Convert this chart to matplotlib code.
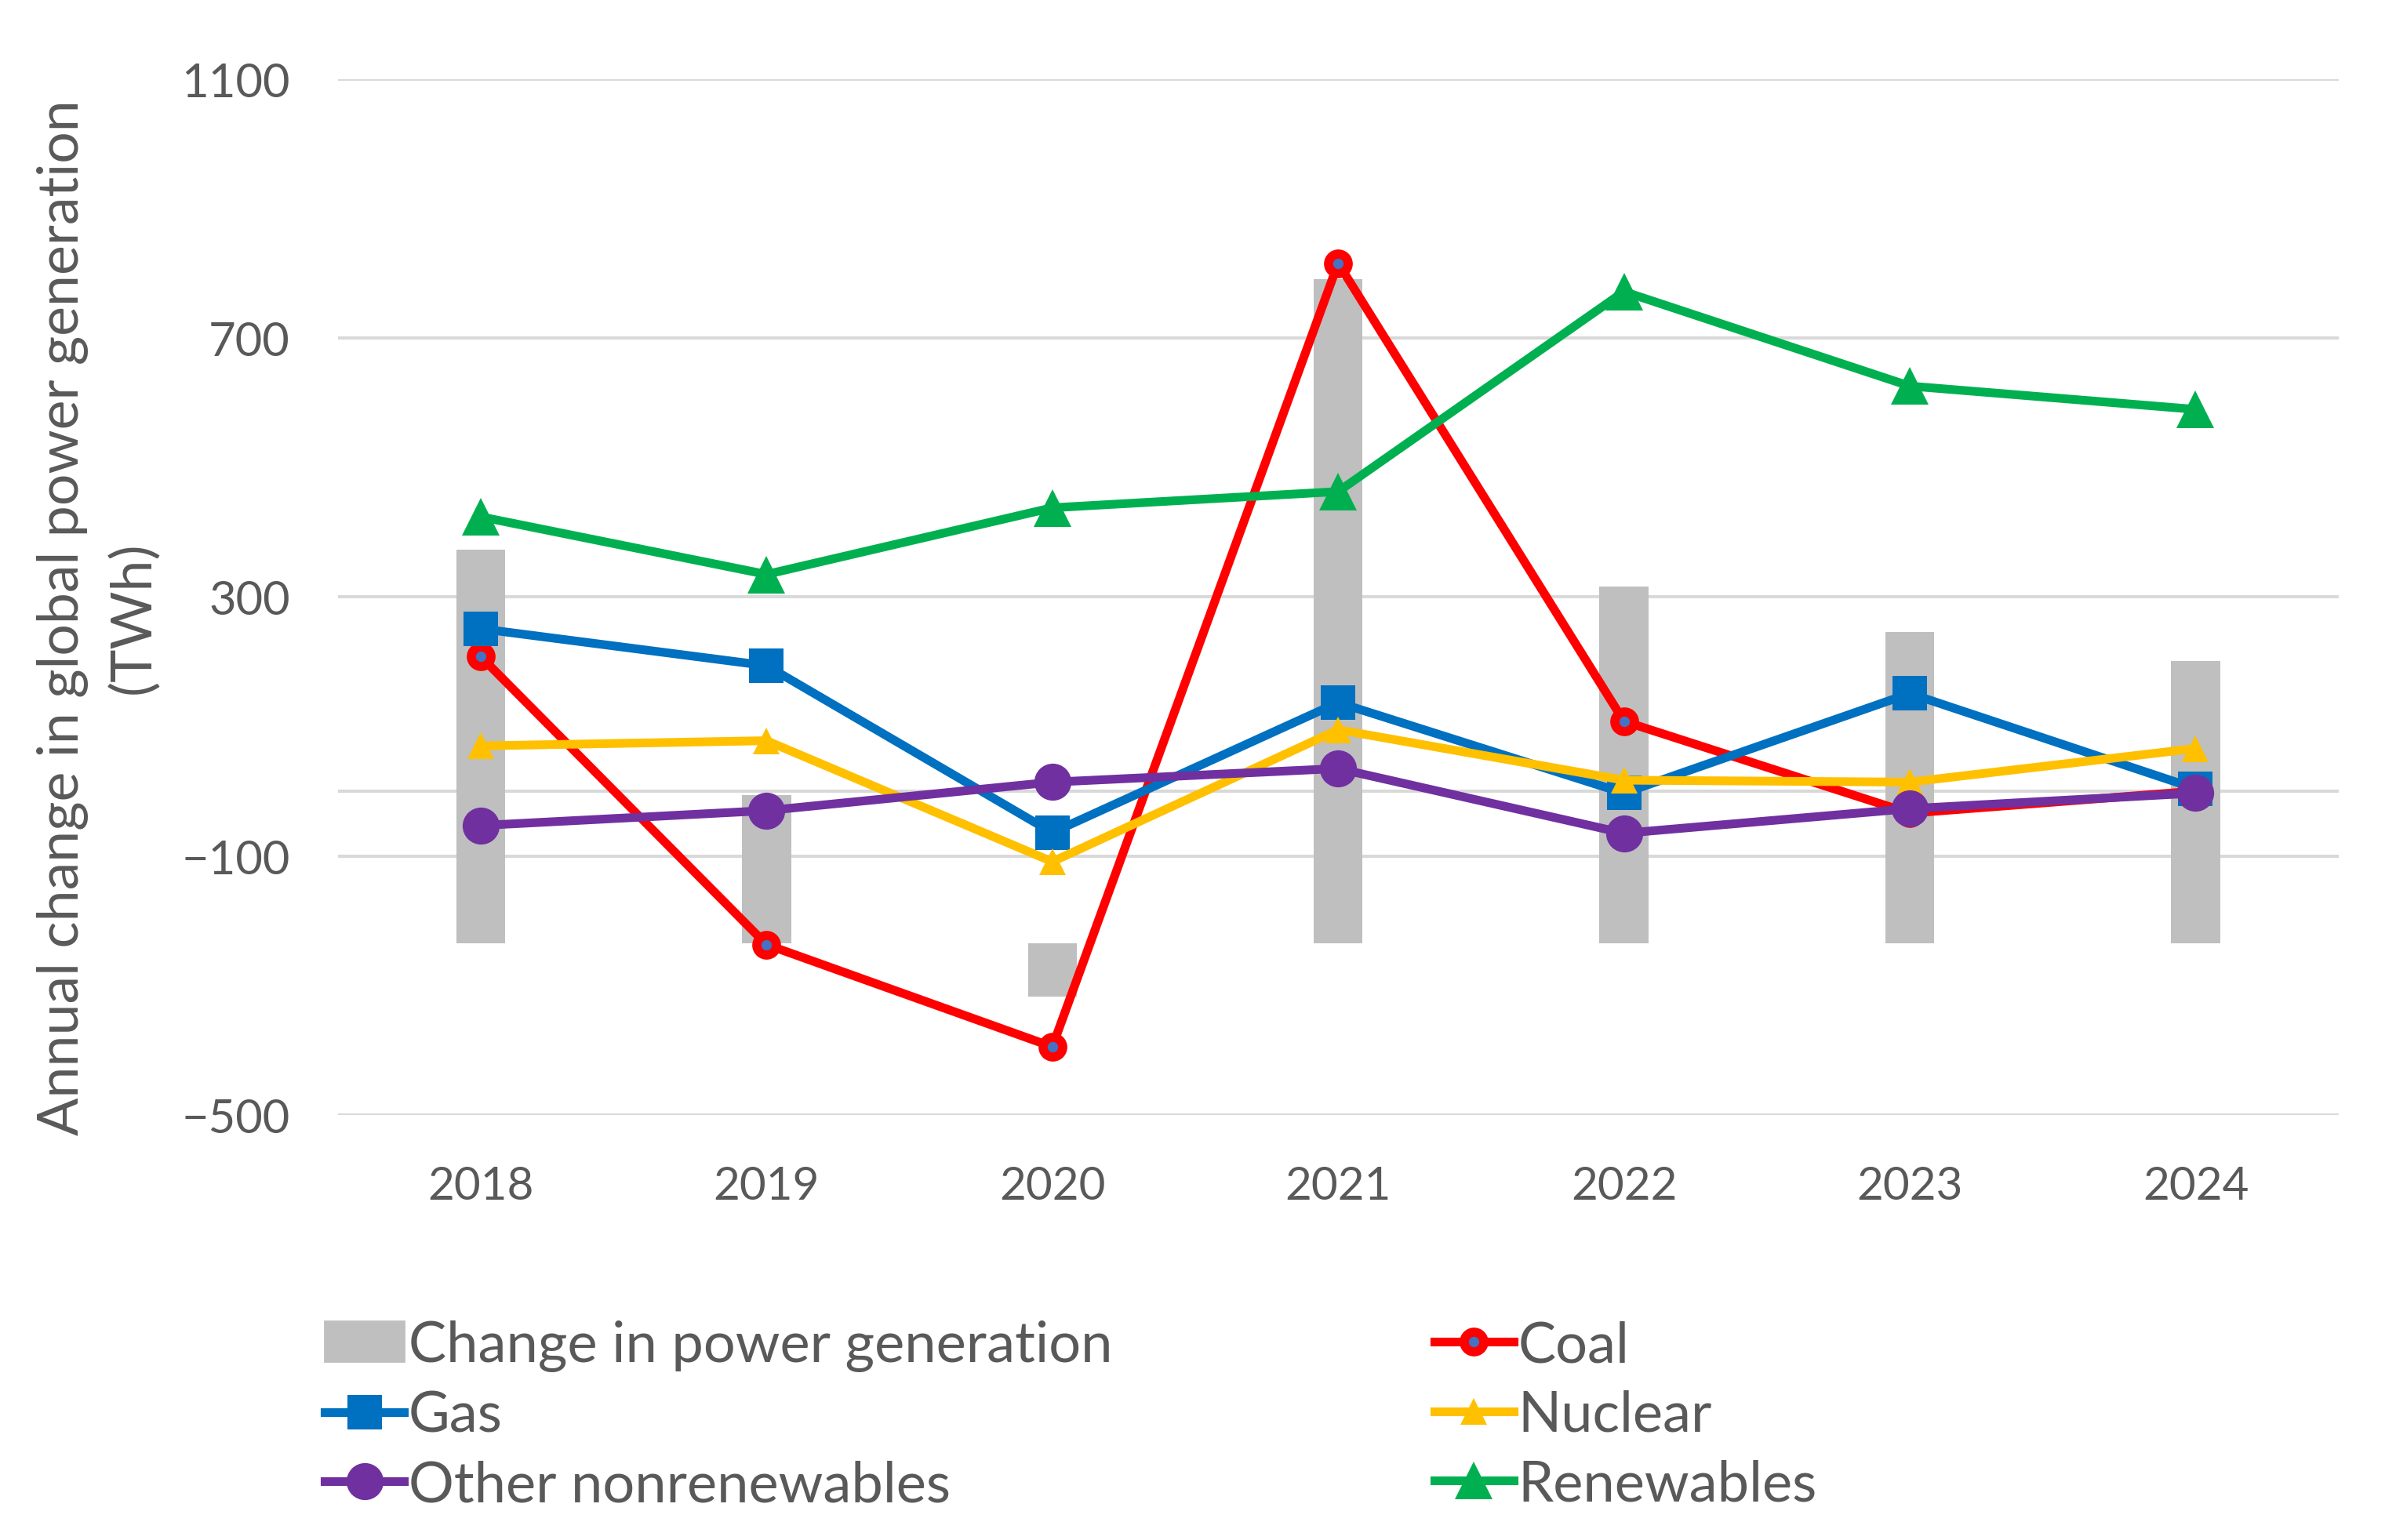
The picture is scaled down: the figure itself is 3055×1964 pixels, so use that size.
import matplotlib
matplotlib.use('Agg')
import matplotlib.pyplot as plt
from matplotlib.patches import Patch

plt.rcParams['font.family'] = ['Lato', 'DejaVu Sans']

years = ['2018', '2019', '2020', '2021', '2022', '2023', '2024']
total_change = [608, 229, -83, 1026, 551, 481, 436]
coal = [208, -237, -395, 816, 108, -34, 0]
gas = [251, 194, -64, 137, -3, 151, 4]
nuclear = [70, 78, -109, 95, 17, 14, 66]
other = [-53, -30, 14, 35, -65, -27, -3]
renewables = [424, 335, 438, 463, 772, 626, 590]

yticks = [-500, -100, 300, 700, 1100]
bar_base = -235  # where the secondary (bar) axis zero sits on the primary axis

text_col = '#595959'
grid_col = '#D9D9D9'

fig = plt.figure(figsize=(15.275, 9.825), dpi=200)
axb = fig.add_axes([0.141, 0.276, 0.835, 0.672])
ax = axb.twinx()

x = list(range(len(years)))

# bars on the secondary axis, gridlines drawn behind them
axb.set_ylim(yticks[0] - bar_base, yticks[-1] - bar_base)
axb.set_yticks([v - bar_base for v in yticks + [0]])
axb.yaxis.grid(True, color=grid_col, linewidth=1.45)
axb.set_axisbelow(True)
axb.tick_params(axis='y', left=False, labelleft=False)
axb.bar(x, total_change, width=0.171, color='#BFBFBF', zorder=2)

ax.set_ylim(yticks[0], yticks[-1])
ax.set_yticks(yticks)
ax.yaxis.tick_left()
ax.tick_params(axis='y', length=0, pad=22, labelsize=21.5, labelcolor=text_col)
ax.tick_params(axis='y', right=False, labelright=False)
ax.set_xlim(-0.5, len(years) - 0.5)
axb.set_xlim(-0.5, len(years) - 0.5)
axb.set_xticks(x)
axb.set_xticklabels(years)
axb.tick_params(axis='x', length=0, pad=23, labelsize=21, labelcolor=text_col)

for a in (ax, axb):
    for s in a.spines.values():
        s.set_visible(False)

lw = 4
ax.plot(x, coal, color='#FF0000', lw=lw, marker='o', ms=9, mfc='#4472C4',
        mec='#FF0000', mew=4.2, label='Coal')
ax.plot(x, gas, color='#0070C0', lw=lw, marker='s', ms=16, mew=0, label='Gas')
ax.plot(x, nuclear, color='#FFC000', lw=lw, marker='^', ms=12, mew=0,
        label='Nuclear')
ax.plot(x, other, color='#7030A0', lw=lw, marker='o', ms=17, mew=0,
        label='Other nonrenewables')
ax.plot(x, renewables, color='#00B050', lw=lw, marker='^', ms=17, mew=0,
        label='Renewables')

fig.text(0.041, 0.599, 'Annual change in global power generation\n(TWh)',
         rotation=90, ha='center', va='center', fontsize=25.8, color=text_col,
         linespacing=1.45, multialignment='center')

h = {l.get_label(): l for l in ax.get_lines()}
bar_patch = Patch(color='#BFBFBF', label='Change in power generation')
handles = [bar_patch, h['Gas'], h['Other nonrenewables'],
           h['Coal'], h['Nuclear'], h['Renewables']]
leg = fig.legend(handles=handles, labels=[hh.get_label() for hh in handles],
                 ncol=2, loc='upper left', bbox_to_anchor=(0.1355, 0.143),
                 frameon=False, fontsize=26, handlelength=1.4,
                 handletextpad=0.08, columnspacing=5.68, labelspacing=0.33,
                 borderaxespad=0, borderpad=0)
for t in leg.get_texts():
    t.set_color(text_col)

fig.savefig('out.png', dpi=200)
